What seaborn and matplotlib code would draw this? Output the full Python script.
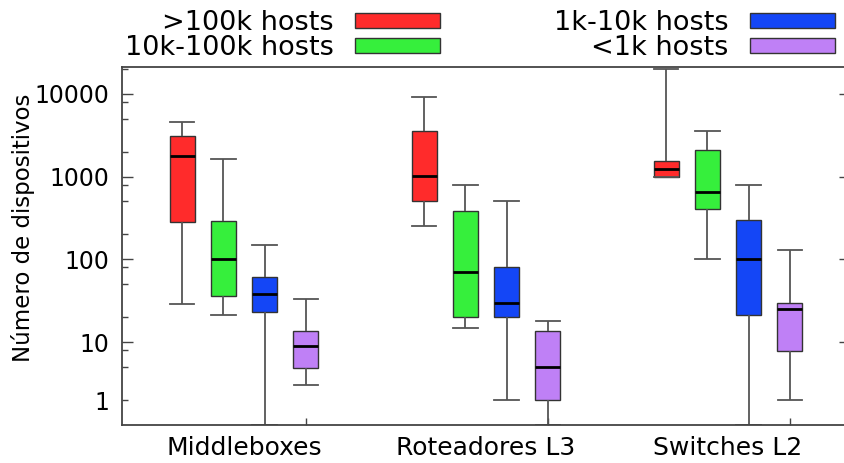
import numpy as np
import pandas as pd
import seaborn as sns
import matplotlib.pyplot as plt
from matplotlib.ticker import LogLocator, NullFormatter, FixedLocator

categories = ["Middleboxes", "Roteadores L3", "Switches L2"]
groups = [">100k hosts", "10k-100k hosts", "1k-10k hosts", "<1k hosts"]
colors = ["#ff2b2b", "#36ef3c", "#1446f6", "#bf80f6"]

# five-number summary, rows = categories, columns = host groups
whisker_low = [[29, 21, 1, 3], [255, 15, 2, 1], [1000, 100, 1, 2]]
box_low = [[280, 36, 23, 4.9], [500, 20, 20, 2], [1000, 405, 21, 7.9]]
medians = [[1750, 102, 38, 9], [1020, 70, 30, 5], [1230, 650, 100, 25]]
box_high = [[3070, 293, 62, 13.8], [3500, 380, 80, 13.8], [1520, 2080, 300, 30]]
whisker_high = [[4600, 1630, 150, 33], [9200, 800, 500, 18], [20000, 3500, 800, 130]]

ytick_values = [2, 10, 100, 1000, 10000]
ytick_labels = ["1", "10", "100", "1000", "10000"]


def build_frame() -> pd.DataFrame:
    rows = []
    for i, cat in enumerate(categories):
        for j, grp in enumerate(groups):
            for stat in (whisker_low, box_low, medians, box_high, whisker_high):
                rows.append({"tipo": cat, "hosts": grp, "dispositivos": stat[i][j]})
    return pd.DataFrame(rows)


df = build_frame()

plt.rcParams["font.family"] = ["DejaVu Sans"]
fig = plt.figure(figsize=(8.44, 4.63), dpi=100)
# axes run slightly past the right edge of the image, like the reference
ax = fig.add_axes([122 / 844, 38 / 463, 728 / 844, 358 / 463])
ax.set_yscale("log")

box_width = 0.68
sns.boxplot(
    data=df, x="tipo", y="dispositivos", hue="hosts",
    order=categories, hue_order=groups, palette=colors, saturation=1,
    width=box_width, gap=0.4, whis=(0, 100),
    linecolor="#333333", linewidth=1.0,
    whiskerprops={"color": "#555555", "linewidth": 1.3},
    capprops={"color": "#555555", "linewidth": 1.3},
    medianprops={"color": "black", "linewidth": 2},
    capwidths=0.1, ax=ax,
)

ax.set_ylim(1, 21000)
ax.set_xlim(-0.504, 2.504)

# axes frame (right side falls outside the picture)
for side in ["left", "top", "bottom"]:
    ax.spines[side].set_color("#444444")
    ax.spines[side].set_linewidth(1.3)
ax.spines["right"].set_visible(False)

# y ticks
ax.yaxis.set_major_locator(FixedLocator(ytick_values))
ax.set_yticklabels(ytick_labels)
ax.yaxis.set_minor_locator(LogLocator(base=10, subs=[2, 5, 8]))
ax.yaxis.set_minor_formatter(NullFormatter())
ax.tick_params(axis="y", which="major", direction="in", length=8, width=1,
               color="#444444", left=True, right=True, labelsize=17, pad=9)
ax.tick_params(axis="y", which="minor", direction="in", length=4, width=1,
               color="#444444", left=True, right=False)
ax.yaxis.get_major_ticks()[0].tick1line.set_markersize(4)
ax.yaxis.get_major_ticks()[0].tick2line.set_markersize(4)

# x ticks: labels at group centres, short marks under the last box
ax.set_xticks(range(len(categories)))
ax.set_xticklabels(categories)
ax.set_xticks(np.arange(len(categories)) + box_width * 3 / 8, minor=True)
ax.tick_params(axis="x", which="major", length=0, labelsize=18, pad=8)
ax.tick_params(axis="x", which="minor", direction="in", length=5, width=1,
               color="#444444", bottom=True, top=False)

ax.set_xlabel("")
ax.set_ylabel("Número de dispositivos", fontsize=16.5)
ax.yaxis.set_label_coords(-0.12, 0.552)

sns.move_legend(
    ax, "upper right", bbox_to_anchor=(835 / 844, 1 - 10 / 463),
    bbox_transform=fig.transFigure, ncol=2, markerfirst=False, frameon=False,
    title=None, fontsize=19.5, handlelength=3.14, handleheight=0.48,
    handletextpad=0.78, columnspacing=4.23, labelspacing=-0.04,
    borderpad=0, borderaxespad=0,
)

fig.savefig("out.png", dpi=100)
